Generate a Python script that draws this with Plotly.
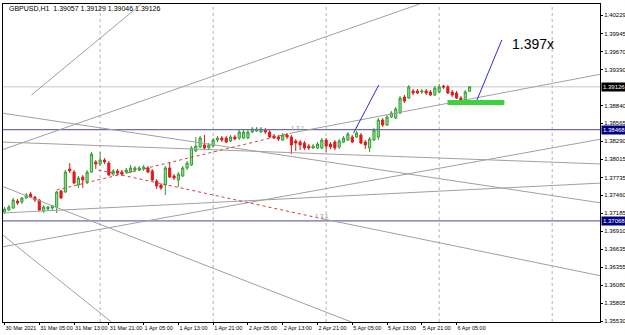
import plotly.graph_objects as go

# ---------------- data (GBPUSD H1) ----------------
open_ = [1.37204,1.37234,1.37265,1.37373,1.37357,1.37419,1.37480,1.37434,1.37388,1.37219,
         1.37250,1.37265,1.37281,1.37527,1.37511,1.37864,1.37818,1.37619,1.37741,1.37665,
         1.37818,1.37972,1.37941,1.38002,1.37956,1.37787,1.37834,1.37818,1.37818,1.37818,
         1.37849,1.37849,1.37864,1.37880,1.37834,1.37680,1.37619,1.37619,1.37880,1.37757,
         1.37695,1.37757,1.37880,1.37926,1.38141,1.38202,1.38233,1.38187,1.38217,1.38309,
         1.38340,1.38340,1.38294,1.38356,1.38340,1.38340,1.38340,1.38432,1.38448,1.38432,
         1.38463,1.38432,1.38371,1.38356,1.38309,1.38386,1.38356,1.38294,1.38279,1.38263,
         1.38217,1.38187,1.38187,1.38187,1.38309,1.38248,1.38279,1.38202,1.38279,1.38309,
         1.38356,1.38356,1.38386,1.38279,1.38187,1.38309,1.38356,1.38617,1.38540,1.38663,
         1.38647,1.38724,1.38970,1.38954,1.39062,1.39062,1.39047,1.39062,1.39047,1.39001,
         1.39047,1.39139,1.39123,1.39047,1.39031,1.38954,1.38924,1.39057]
high_ = [1.37281,1.37311,1.37419,1.37404,1.37434,1.37496,1.37511,1.37450,1.37404,1.37311,
         1.37296,1.37311,1.37527,1.37542,1.37849,1.37956,1.37849,1.37757,1.37772,1.37849,
         1.38125,1.38002,1.38125,1.38033,1.37987,1.37864,1.37864,1.37849,1.37880,1.37926,
         1.37910,1.37910,1.37926,1.37910,1.37864,1.37711,1.37649,1.37910,1.37972,1.37787,
         1.37818,1.37910,1.37987,1.38217,1.38356,1.38371,1.38386,1.38263,1.38340,1.38371,
         1.38371,1.38371,1.38386,1.38386,1.38463,1.38463,1.38479,1.38509,1.38509,1.38509,
         1.38494,1.38463,1.38402,1.38386,1.38417,1.38417,1.38386,1.38325,1.38309,1.38294,
         1.38248,1.38248,1.38279,1.38340,1.38340,1.38279,1.38309,1.38325,1.38371,1.38432,
         1.38386,1.38448,1.38417,1.38309,1.38356,1.38494,1.38647,1.38647,1.38693,1.38755,
         1.38816,1.38985,1.39001,1.39154,1.39093,1.39093,1.39093,1.39093,1.39077,1.39139,
         1.39169,1.39154,1.39154,1.39077,1.39062,1.38985,1.39077,1.39129]
low_ = [1.37173,1.37219,1.37250,1.37311,1.37327,1.37404,1.37419,1.37357,1.37219,1.37188,
        1.37219,1.37234,1.37188,1.37404,1.37496,1.37803,1.37634,1.37573,1.37573,1.37634,
        1.37803,1.37864,1.37910,1.37941,1.37757,1.37757,1.37772,1.37757,1.37787,1.37803,
        1.37818,1.37834,1.37834,1.37803,1.37680,1.37557,1.37542,1.37465,1.37726,1.37695,
        1.37588,1.37741,1.37849,1.37910,1.38125,1.38187,1.38156,1.38156,1.38202,1.38279,
        1.38279,1.38263,1.38279,1.38309,1.38309,1.38325,1.38325,1.38417,1.38432,1.38417,
        1.38402,1.38340,1.38325,1.38294,1.38294,1.38325,1.38094,1.38141,1.38156,1.38156,
        1.38156,1.38171,1.38171,1.38171,1.38125,1.38171,1.38156,1.38171,1.38263,1.38294,
        1.38263,1.38340,1.38248,1.38171,1.38125,1.38294,1.38309,1.38509,1.38525,1.38647,
        1.38632,1.38709,1.38878,1.38939,1.39001,1.39016,1.39016,1.39001,1.38985,1.38985,
        1.39031,1.39093,1.39016,1.38970,1.38939,1.38878,1.38908,1.39046]
close_ = [1.37250,1.37281,1.37388,1.37342,1.37419,1.37465,1.37434,1.37388,1.37234,1.37281,
          1.37281,1.37296,1.37511,1.37419,1.37818,1.37834,1.37649,1.37726,1.37695,1.37818,
          1.38094,1.37941,1.38002,1.37972,1.37772,1.37834,1.37803,1.37787,1.37849,1.37880,
          1.37880,1.37880,1.37895,1.37818,1.37695,1.37603,1.37573,1.37880,1.37741,1.37726,
          1.37787,1.37880,1.37956,1.38187,1.38217,1.38340,1.38187,1.38233,1.38309,1.38340,
          1.38309,1.38279,1.38356,1.38325,1.38432,1.38432,1.38432,1.38479,1.38479,1.38479,
          1.38432,1.38356,1.38340,1.38325,1.38386,1.38356,1.38233,1.38263,1.38233,1.38187,
          1.38187,1.38217,1.38248,1.38309,1.38217,1.38202,1.38187,1.38294,1.38340,1.38402,
          1.38279,1.38417,1.38263,1.38233,1.38325,1.38463,1.38617,1.38540,1.38663,1.38724,
          1.38786,1.38954,1.38908,1.39123,1.39031,1.39031,1.39062,1.39031,1.39001,1.39108,
          1.39123,1.39123,1.39031,1.39001,1.38954,1.38924,1.39047,1.39126]
bars = list(range(len(close_)))

date_ticks = [0, 8, 16, 24, 32, 40, 48, 56, 64, 72, 80, 88, 96, 104]
date_labels = ["30 Mar 2021", "31 Mar 05:00", "31 Mar 13:00", "31 Mar 21:00", "1 Apr 05:00",
               "1 Apr 13:00", "1 Apr 21:00", "2 Apr 05:00", "2 Apr 13:00", "2 Apr 21:00",
               "5 Apr 05:00", "5 Apr 13:00", "5 Apr 21:00", "6 Apr 05:00"]
grid_bars = [22, 48, 74, 100, 126]

price_ticks = [1.40229, 1.39945, 1.39670, 1.39390, 1.38840, 1.38565, 1.38290, 1.38015,
               1.37735, 1.37460, 1.37185, 1.36910, 1.36635, 1.36355, 1.36080, 1.35805, 1.35530]
bid_price = 1.39126
hlines = [1.38468, 1.37068]

# trend lines: (bar0, price0, bar1, price1)
gray_lines = [
    (66.0, 1.38417, 137.4, 1.39323),
    (73.4, 1.37096, 137.4, 1.36221),
    (-0.7, 1.38724, 137.4, 1.37342),
    (-0.7, 1.37188, 137.4, 1.37649),
    (-0.7, 1.38279, 137.4, 1.37941),
    (-0.7, 1.36666, 137.4, 1.38325),
    (-0.7, 1.38156, 95.5, 1.40398),
    (6.2, 1.39001, 31.5, 1.40398),
    (-0.7, 1.36866, 24.6, 1.35515),
    (-0.7, 1.37603, 79.8, 1.35515),
]
red_lines = [
    (12.0, 1.37542, 66.0, 1.38417),
    (21.6, 1.37849, 73.4, 1.37096),
]
fib_labels = [(67.6, 1.38494, "1 3 1"), (73.0, 1.37142, "1 3 1")]
blue_lines = [(80.3, 1.38417, 86.1, 1.39154), (108.6, 1.38908, 114.4, 1.39845)]
zone = (101.9, 1.38847, 115.0, 1.38924)
target = (116.3, 1.39784, "1.397x")

x_range = [-0.35, 137.0]
y_range = [1.35515, 1.40398]

fig = go.Figure()
fig.add_trace(go.Candlestick(
    x=bars, open=open_, high=high_, low=low_, close=close_,
    increasing=dict(line=dict(color="#2f9e2f", width=1), fillcolor="#9be09b"),
    decreasing=dict(line=dict(color="#e01b1b", width=1), fillcolor="#e01b1b"),
    whiskerwidth=0, showlegend=False, hoverinfo="skip"))

shapes = []
for g in grid_bars:
    shapes.append(dict(type="line", xref="x", yref="paper", x0=g, x1=g, y0=0, y1=1,
                       line=dict(color="#b4b4b4", width=1, dash="dot"), layer="below"))
shapes.append(dict(type="line", xref="paper", yref="y", x0=0, x1=1, y0=bid_price, y1=bid_price,
                   line=dict(color="#c8c8c8", width=1), layer="below"))
for h in hlines:
    shapes.append(dict(type="line", xref="paper", yref="y", x0=0, x1=1, y0=h, y1=h,
                       line=dict(color="#6c6cb4", width=1.3)))
for (a, b, c, d) in gray_lines:
    shapes.append(dict(type="line", x0=a, y0=b, x1=c, y1=d, line=dict(color="#a0a0a0", width=1)))
for (a, b, c, d) in red_lines:
    shapes.append(dict(type="line", x0=a, y0=b, x1=c, y1=d, line=dict(color="#d04040", width=1, dash="dot")))
for (a, b, c, d) in blue_lines:
    shapes.append(dict(type="line", x0=a, y0=b, x1=c, y1=d, line=dict(color="#2a2ae0", width=1)))
shapes.append(dict(type="rect", x0=zone[0], y0=zone[1], x1=zone[2], y1=zone[3],
                   fillcolor="#3fd23f", line=dict(width=0)))

ann = []
ann.append(dict(xref="paper", yref="paper", x=0.006, y=0.985, xanchor="left", yanchor="middle",
                text="GBPUSD,H1  1.39057 1.39129 1.39046 1.39126", showarrow=False,
                font=dict(family="Liberation Sans", size=7, color="#000")))
ann.append(dict(x=target[0], y=target[1], text=target[2], showarrow=False, xanchor="left",
                font=dict(family="Liberation Sans", size=14, color="#000")))
for (bx, py, t) in fib_labels:
    ann.append(dict(x=bx, y=py, text=t, showarrow=False, font=dict(family="Liberation Sans", size=6, color="#909090")))
ann.append(dict(xref="paper", yref="y", x=1.0, y=bid_price, text=f"{bid_price:.5f}", showarrow=False,
                xanchor="left", bgcolor="#000", font=dict(family="Liberation Sans", size=6, color="#fff"),
                borderpad=1, xshift=1))
for h in hlines:
    ann.append(dict(xref="paper", yref="y", x=1.0, y=h, text=f"{h:.5f}", showarrow=False,
                    xanchor="left", bgcolor="#000080", font=dict(family="Liberation Sans", size=6, color="#fff"),
                    borderpad=1, xshift=1))

fig.update_layout(
    width=625, height=335, margin=dict(l=3, r=25, t=4, b=13, autoexpand=False),
    paper_bgcolor="#fff", plot_bgcolor="#fff",
    shapes=shapes, annotations=ann, showlegend=False,
    xaxis=dict(range=x_range, tickvals=date_ticks, ticktext=date_labels, showgrid=False,
               zeroline=False, rangeslider=dict(visible=False), showline=True, linecolor="#000",
               mirror=True, ticks="outside", ticklen=2, tickcolor="#000", tickangle=0,
               automargin=False, ticklabelposition="outside right",
               tickfont=dict(family="Liberation Sans", size=5.5, color="#000")),
    yaxis=dict(range=y_range, side="right", tickvals=price_ticks, automargin=False,
               ticktext=[f"{p:.5f}" for p in price_ticks], showgrid=False, zeroline=False,
               showline=True, linecolor="#000", mirror=True, ticks="outside", ticklen=2,
               tickcolor="#000", tickfont=dict(family="Liberation Sans", size=6, color="#000")),
)
fig.write_html("out.html")
